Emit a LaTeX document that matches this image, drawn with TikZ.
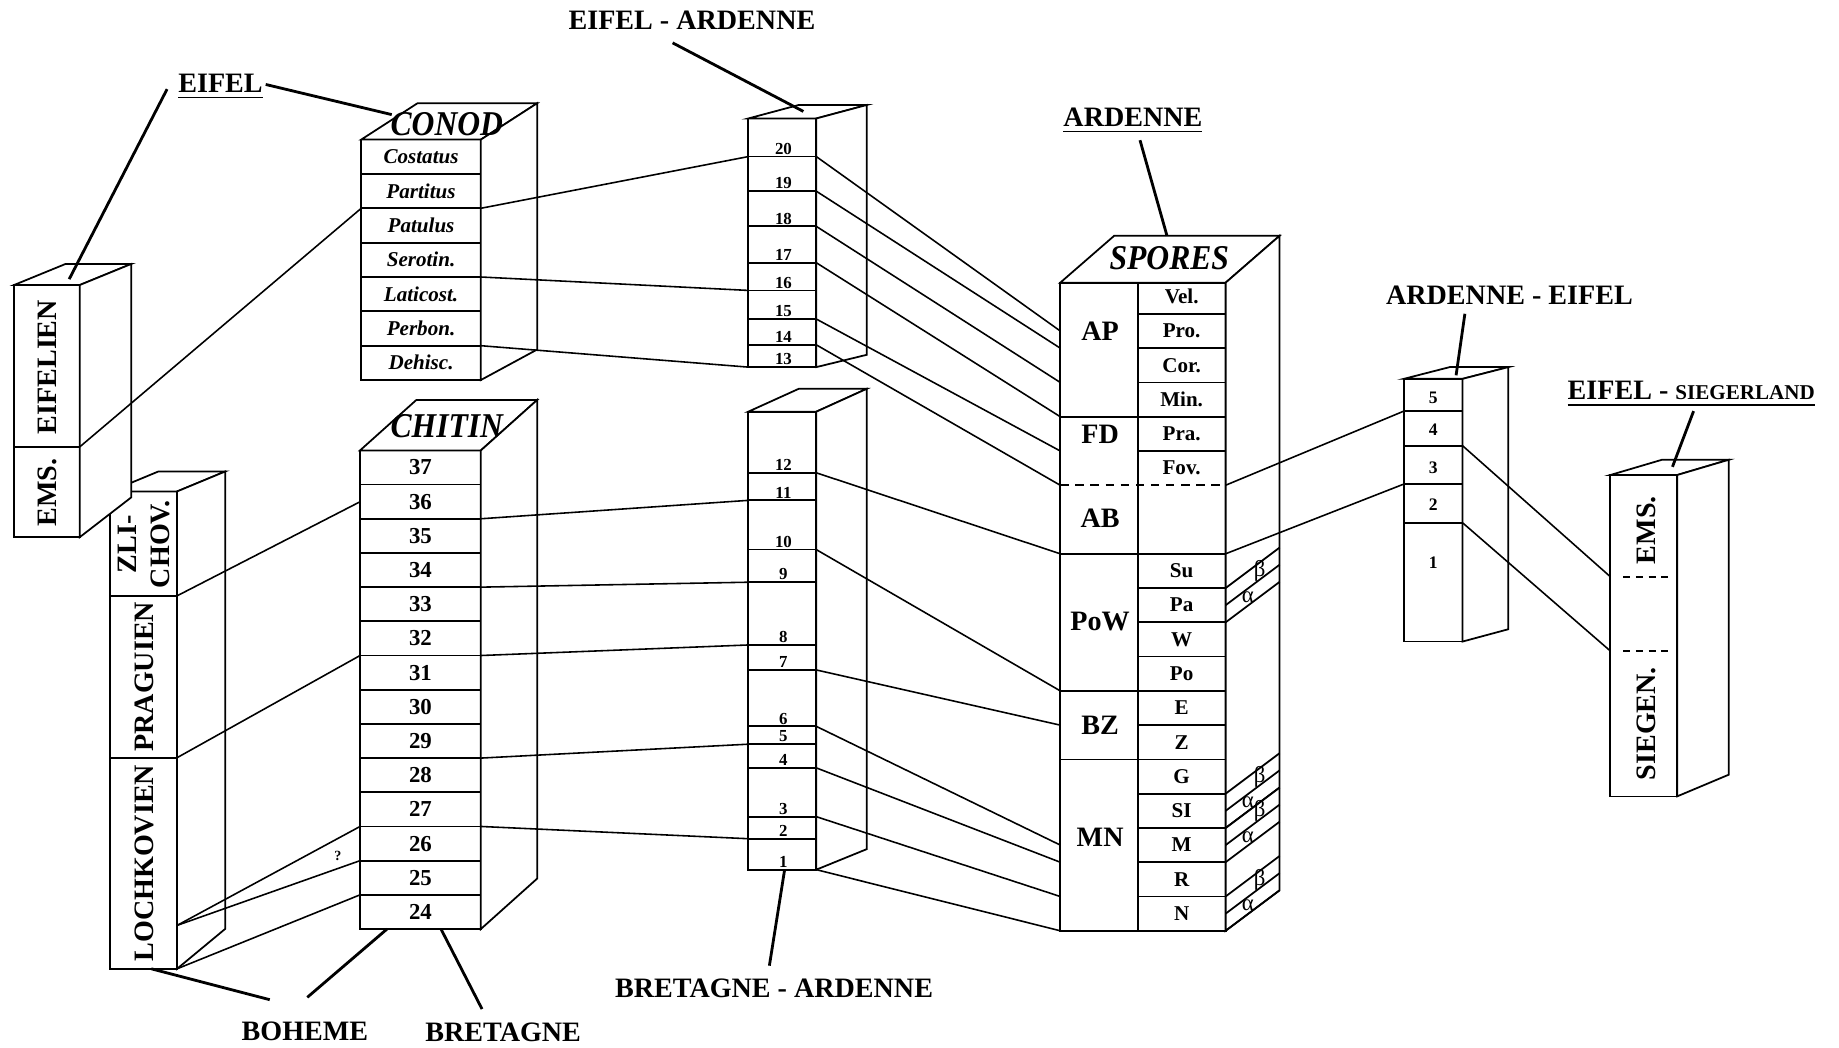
\documentclass[tikz,border=0pt]{standalone}
\usepackage{fontspec}
\setmainfont{Liberation Serif}
\usetikzlibrary{calc}

% front face, top face and side face of one column
\newcommand{\prism}[7]{%
  \filldraw[box] (#1,#2) rectangle (#3,#4);
  \filldraw[box] (#1,#2) -- ++(#5,#6) -- ++({#3-#1},0) -- (#3,#2) -- cycle;
  \filldraw[box] (#3,#2) -- ++(#5,#6) -- ++(0,{#4-#2+(#7)-(#6)}) -- (#3,#4) -- cycle;
}

\begin{document}
\begin{tikzpicture}[x=0.011728cm, y=-0.011728cm,
    box/.style={draw, fill=white, line width=0.5pt},
    rowline/.style={line width=0.5pt},
    link/.style={line width=0.45pt},
    pointer/.style={line width=0.8pt},
    region/.style={font=\fontsize{8}{9}\selectfont\bfseries, inner sep=1pt},
    stage/.style={font=\fontsize{8}{9.5}\selectfont\bfseries, rotate=90, inner sep=0pt, align=center},
    head/.style={font=\fontsize{9}{10}\selectfont\bfseries\itshape, inner sep=0pt, yscale=1.1},
    taxon/.style={font=\fontsize{6}{7}\selectfont\bfseries\itshape, inner sep=0pt},
    chnum/.style={font=\fontsize{6.5}{7}\selectfont\bfseries, inner sep=0pt},
    bed/.style={font=\fontsize{4.8}{5}\selectfont\bfseries, inner sep=0.4pt, anchor=south},
    aenum/.style={font=\fontsize{5}{6}\selectfont\bfseries, inner sep=0pt},
    zone/.style={font=\fontsize{8}{9}\selectfont\bfseries, inner sep=0pt},
    subzone/.style={font=\fontsize{6}{7}\selectfont\bfseries, inner sep=0pt},
    greek/.style={font=\fontsize{6.5}{7}\selectfont, inner sep=0pt}]
\fill[white] (0,0) rectangle (1568,893);
\useasboundingbox (0,0) rectangle (1568,893);
%%% columns, back to front
\prism{94}{419}{151}{826}{41}{-17}{-34}
\prism{12}{243}{68}{458}{44}{-18}{-34}
\prism{308}{119}{410}{324}{48}{-31}{-26}
\prism{307}{384}{410}{792.1}{48}{-43}{-43}
\prism{638}{101}{696}{313}{43}{-11.5}{-10.5}
\prism{638}{351}{696}{741.5}{43}{-19.5}{-17.5}
\prism{904}{241}{1045}{793.6}{46}{-40}{-34.5}
\prism{1197}{323}{1247}{547}{39}{-10}{-10.5}
\prism{1373}{405}{1430}{679}{44}{-13}{-18.5}
%%% Eifel stages
\draw[rowline] (12,381) -- (68,381);
\coordinate (efR) at (68,381);
\coordinate (efTop) at (59,238);
\node[stage] (eifelien) at (40,313) {EIFELIEN};
\node[stage] (emsA) at (40,420) {EMS.};
%%% Boheme stages
\draw[rowline] (94,508) -- (151,508);
\draw[rowline] (94,646) -- (151,646);
\coordinate (zlR1) at (151,508);
\coordinate (zlR2) at (151,646);
\coordinate (zlR3) at (151,789);
\coordinate (zlR4) at (151,826);
\coordinate (zlBot) at (129,826);
\node[stage] (zlichov) at (123,464) {ZLI-\\CHOV.};
\node[stage] (praguien) at (123,577) {PRAGUIEN};
\node[stage] (lochkovien) at (123,736) {LOCHKOVIEN};
%%% conodonts
\foreach \i in {0,...,7} {
  \coordinate (coL\i) at (308,119+29.29*\i);
  \coordinate (coR\i) at (410,119+29.29*\i);
}
\foreach \i in {1,...,6} \draw[rowline] (coL\i) -- (coR\i);
\foreach \lab [count=\i from 0] in {Costatus,Partitus,Patulus,Serotin.,Laticost.,Perbon.,Dehisc.}
  \node[taxon] (co\i) at (359,133.6+29.29*\i) {\lab};
\coordinate (coTop) at (334,97.7);
\node[head] (conod) at (381,106) {CONOD};
%%% chitinozoans
\foreach \i in {0,...,14} {
  \coordinate (chL\i) at (307,384+29.15*\i);
  \coordinate (chR\i) at (410,384+29.15*\i);
}
\foreach \i in {1,...,13} \draw[rowline] (chL\i) -- (chR\i);
\foreach \i [evaluate=\i as \nb using int(37-\i)] in {0,...,13}
  \node[chnum] (ch\nb) at (358.5,398.6+29.15*\i) {\nb};
\coordinate (chMid) at (307,427.8);
\coordinate (chBotA) at (330,792.1);
\coordinate (chBotB) at (376,792.1);
\node[head] (chitin) at (381,363) {CHITIN};
\node[font=\fontsize{4}{4}\selectfont\bfseries, inner sep=0pt] (query) at (288,730) {?};
%%% Eifel - Ardenne beds
\foreach \nb/\y in {20/133.5,19/163,18/193,17/224,16/247.6,15/272,14/294,13/313} {
  \draw[rowline] (638,\y) -- (696,\y);
  \coordinate (eaL\nb) at (638,\y);
  \coordinate (eaR\nb) at (696,\y);
  \node[bed] (ea\nb) at (668,\y) {\nb};
}
\coordinate (eaTop) at (685,95);
%%% Bretagne - Ardenne beds
\foreach \nb/\y in {12/403.1,11/426.6,10/468.6,9/496.4,8/549.9,7/571.2,6/619.3,5/634.5,4/654.7,3/696.3,2/715.1,1/741.5} {
  \draw[rowline] (638,\y) -- (696,\y);
  \coordinate (baL\nb) at (638,\y);
  \coordinate (baR\nb) at (696,\y);
  \node[bed] (ba\nb) at (668,\y) {\nb};
}
\coordinate (baBot) at (669,741.5);
%%% spores
\foreach \k in {1,...,19} {
  \coordinate (spL\k) at (904,238.4+29.22*\k);
  \coordinate (spM\k) at (970,238.4+29.22*\k);
  \coordinate (spR\k) at (1045,238.4+29.22*\k);
}
\draw[rowline] (970,241) -- (spM19);
\foreach \k in {1,2,3,5,9,10,11,13,15,16,17,18} \draw[rowline] (spM\k) -- (spR\k);
\foreach \k in {4,8,12,14} \draw[rowline] (spL\k) -- (spR\k);
\draw[rowline, dash pattern=on 2.4pt off 1.9pt] (spL6) -- (spR6);
\foreach \lab/\k in {Vel./0,Pro./1,Cor./2,Min./3,Pra./4,Fov./5,Su/8,Pa/9,W/10,Po/11,E/12,Z/13,G/14,SI/15,M/16,R/17,N/18}
  \node[subzone] (sz\k) at (1007.5,253+29.22*\k) {\lab};
\foreach \lab/\y in {AP/282.7,FD/370.7,AB/441.7,PoW/530.3,BZ/618.3,MN/714}
  \node[zone] (\lab) at (938,\y) {\lab};
\foreach \k in {9,15,16,18} {
  \pgfmathtruncatemacro\kk{\k+1}
  \draw[rowline] (spR\k) -- ++(46,-34.5);
  \draw[rowline] ($(spR\k)+(0,14.61)$) -- ++(46,-34.5);
  \draw[rowline] (spR\kk) -- ++(46,-34.5);
  \node[greek] (beta\k) at ($(spR\k)+(29,-14.4)$) {β};
  \node[greek] (alpha\k) at ($(spR\k)+(19,7.6)$) {α};
}
\coordinate (spTop) at (995,201);
\coordinate (spL1h) at (904,282.2);
\coordinate (spL16h) at (904,720.5);
\node[head] (spores) at (997,220) {SPORES};
%%% Ardenne - Eifel beds
\foreach \i/\y in {1/350.5,2/380,3/412.7,4/445.7} {
  \coordinate (aeL\i) at (1197,\y);
  \coordinate (aeR\i) at (1247,\y);
  \draw[rowline] (aeL\i) -- (aeR\i);
}
\foreach \nb/\y in {5/339,4/366,3/399,2/430,1/480}
  \node[aenum] (ae\nb) at (1222,\y) {\nb};
\coordinate (aeTop) at (1241.5,320);
%%% Eifel - Siegerland
\draw[rowline, dash pattern=on 2pt off 1.6pt] (1384,491.7) -- (1425,491.7);
\draw[rowline, dash pattern=on 2pt off 1.6pt] (1384,555) -- (1425,555);
\coordinate (esL1) at (1373,491.7);
\coordinate (esL2) at (1373,555);
\coordinate (esTop) at (1426,398);
\node[stage] (emsB) at (1404,452) {EMS.};
\node[stage] (siegen) at (1404,617) {SIEGEN.};
%%% regions
\node[region] (eifel) at (188,74) {\underline{EIFEL}};
\node[region] (eifard) at (590,17) {EIFEL - ARDENNE};
\node[region] (ardenne) at (966,103) {\underline{ARDENNE}};
\node[region] (ardeif) at (1287,252) {ARDENNE - EIFEL};
\node[region] (eifsieg) at (1442,336) {\underline{EIFEL - {\fontsize{6}{7}\selectfont SIEGERLAND}}};
\node[region] (bretard) at (660,843) {BRETAGNE - ARDENNE};
\node[region] (boheme) at (260,879) {BOHEME};
\node[region] (bretagne) at (429,880) {BRETAGNE};
%
\draw[pointer] ($(eifel.west)+(-6,2)$) -- (efTop);
\draw[pointer] ($(eifel.east)+(-1,-2)$) -- (coTop);
\draw[pointer] ($(eifard.south)+(-16.5,8)$) -- (eaTop);
\draw[pointer] ($(ardenne.south)+(6,2)$) -- (spTop);
\draw[pointer] ($(ardeif.south)+(-38,4)$) -- (aeTop);
\draw[pointer] ($(eifsieg.south)+(2,0)$) -- (esTop);
\draw[pointer] ($(bretard.north)+(-4,-8)$) -- (baBot);
\draw[pointer] (zlBot) -- ($(boheme.north)+(-30,-15)$);
\draw[pointer] (chBotA) -- ($(boheme.north)+(2,-17)$);
\draw[pointer] (chBotB) -- ($(bretagne.north)+(-18,-8)$);
%%% correlations
\draw[link] (coL2) -- (efR);
\draw[link] (coR2) -- (eaL20);
\draw[link] (coR4) -- (eaL16);
\draw[link] (coR6) -- (eaL13);
%
\draw[link] (zlR1) -- (chMid);
\draw[link] (zlR2) -- (chL6);
\draw[link] (zlR3) -- (chL11);
\draw[link] (zlR3) -- (chL12);
\draw[link] (zlR4) -- (chL13);
%
\draw[link] (chR2) -- (baL11);
\draw[link] (chR4) -- (baL9);
\draw[link] (chR6) -- (baL8);
\draw[link] (chR9) -- (baL5);
\draw[link] (chR11) -- (baL2);
%
\draw[link] (eaR20) -- (spL1h);
\draw[link] (eaR19) -- (spL2);
\draw[link] (eaR18) -- (spL3);
\draw[link] (eaR17) -- (spL4);
\draw[link] (eaR15) -- (spL5);
\draw[link] (eaR14) -- (spL6);
%
\draw[link] (baR12) -- (spL8);
\draw[link] (baR10) -- (spL12);
\draw[link] (baR7) -- (spL13);
\draw[link] (baR6) -- (spL16h);
\draw[link] (baR4) -- (spL17);
\draw[link] (baR3) -- (spL18);
\draw[link] (baR1) -- (spL19);
%
\draw[link] (spR6) -- (aeL1);
\draw[link] (spR8) -- (aeL3);
\draw[link] (aeR2) -- (esL1);
\draw[link] (aeR4) -- (esL2);
\end{tikzpicture}
\end{document}
